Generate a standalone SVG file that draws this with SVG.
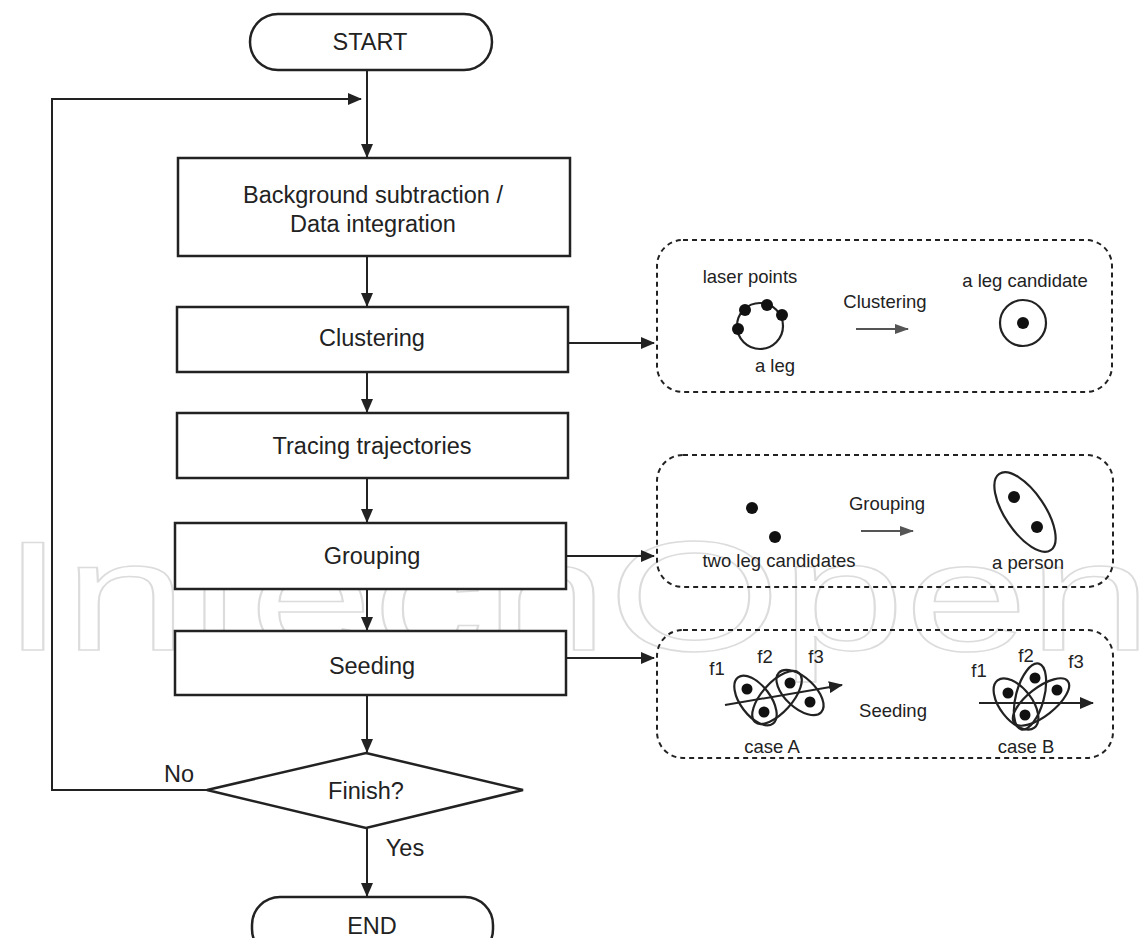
<svg xmlns="http://www.w3.org/2000/svg" width="1140" height="938" viewBox="0 0 1140 938">
<defs>
<marker id="ah" markerWidth="14" markerHeight="12" refX="13" refY="6" orient="auto" markerUnits="userSpaceOnUse"><path d="M0,0 L14,6 L0,12 z" fill="#222"/></marker>
<marker id="ahg" markerWidth="14" markerHeight="10" refX="13" refY="5" orient="auto" markerUnits="userSpaceOnUse"><path d="M0,0 L14,5 L0,10 z" fill="#555"/></marker>
<style>
.box{fill:#fff;stroke:#222;stroke-width:2.5}
.panel{fill:none;stroke:#222;stroke-width:2;stroke-dasharray:5 4}
.t{font-family:"Liberation Sans",Arial,sans-serif;font-size:23.5px;fill:#222;text-anchor:middle}
.s{font-family:"Liberation Sans",Arial,sans-serif;font-size:18.5px;fill:#222;text-anchor:middle}
.c{fill:none;stroke:#222;stroke-width:2.2}
.d{fill:#111}
.ln{fill:none;stroke:#222;stroke-width:2}
.g{fill:none;stroke:#555;stroke-width:2.2}
.wm{font-family:"Liberation Sans",Arial,sans-serif;font-size:156px;fill:none;stroke:#dcdcdc;stroke-width:1.5}
</style>
</defs>
<rect width="1140" height="938" fill="#fff"/>
<text class="wm" x="2" y="650" textLength="1150" lengthAdjust="spacingAndGlyphs">IntechOpen</text>

<g id="connectors">
<line class="ln" x1="367" y1="70" x2="367" y2="157" marker-end="url(#ah)"/>
<polyline class="ln" points="207,790 52,790 52,99 361,99" marker-end="url(#ah)"/>
<line class="ln" x1="367" y1="256" x2="367" y2="306" marker-end="url(#ah)"/>
<line class="ln" x1="367" y1="372" x2="367" y2="412" marker-end="url(#ah)"/>
<line class="ln" x1="367" y1="478" x2="367" y2="522" marker-end="url(#ah)"/>
<line class="ln" x1="367" y1="589" x2="367" y2="630" marker-end="url(#ah)"/>
<line class="ln" x1="367" y1="695" x2="367" y2="752" marker-end="url(#ah)"/>
<line class="ln" x1="367" y1="828" x2="367" y2="896" marker-end="url(#ah)"/>
<line class="ln" x1="568" y1="343" x2="654" y2="343" marker-end="url(#ah)"/>
<line class="ln" x1="566" y1="556" x2="654" y2="556" marker-end="url(#ah)"/>
<line class="ln" x1="566" y1="658" x2="654" y2="658" marker-end="url(#ah)"/>
<text class="t" x="179" y="782">No</text>
<text class="t" x="405" y="856">Yes</text>
</g>

<g id="start">
<rect class="box" x="250" y="14" width="242" height="56" rx="28"/>
<text class="t" x="370" y="50">START</text>
</g>
<g id="background">
<rect class="box" x="178" y="158" width="392" height="98"/>
<text class="t" x="373" y="203">Background subtraction /</text>
<text class="t" x="373" y="232">Data integration</text>
</g>
<g id="clustering">
<rect class="box" x="177" y="307" width="391" height="65"/>
<text class="t" x="372" y="346">Clustering</text>
</g>
<g id="tracing">
<rect class="box" x="177" y="413" width="391" height="65"/>
<text class="t" x="372" y="454">Tracing trajectories</text>
</g>
<g id="grouping">
<rect class="box" x="175" y="523" width="391" height="66"/>
<text class="t" x="372" y="564">Grouping</text>
</g>
<g id="seeding">
<rect class="box" x="175" y="631" width="391" height="64"/>
<text class="t" x="372" y="674">Seeding</text>
</g>
<g id="finish">
<polygon class="box" points="366,753 523,790 366,828 207,790"/>
<text class="t" x="366" y="799">Finish?</text>
</g>
<g id="end">
<rect class="box" x="252" y="897" width="241" height="60" rx="28"/>
<text class="t" x="372" y="934">END</text>
</g>

<g id="panel-clustering">
<rect class="panel" x="657" y="240" width="455" height="152" rx="26"/>
<text class="s" x="750" y="283">laser points</text>
<circle class="c" cx="760" cy="326" r="23"/>
<circle class="d" cx="745" cy="310" r="6"/>
<circle class="d" cx="767" cy="305" r="6"/>
<circle class="d" cx="782" cy="315" r="6"/>
<circle class="d" cx="738" cy="329" r="6"/>
<text class="s" x="775" y="372">a leg</text>
<text class="s" x="885" y="308">Clustering</text>
<line class="g" x1="856" y1="329" x2="908" y2="329" marker-end="url(#ahg)"/>
<text class="s" x="1025" y="287">a leg candidate</text>
<circle class="c" cx="1023" cy="323" r="23"/>
<circle class="d" cx="1023" cy="323" r="6"/>
</g>

<g id="panel-grouping">
<rect class="panel" x="657" y="455" width="456" height="132" rx="26"/>
<circle class="d" cx="752" cy="508" r="6"/>
<circle class="d" cx="775" cy="537" r="6"/>
<text class="s" x="779" y="567">two leg candidates</text>
<text class="s" x="887" y="510">Grouping</text>
<line class="g" x1="861" y1="531" x2="913" y2="531" marker-end="url(#ahg)"/>
<ellipse class="c" cx="1025" cy="512" rx="46" ry="20" transform="rotate(56 1025 512)"/>
<circle class="d" cx="1014" cy="497" r="6"/>
<circle class="d" cx="1037" cy="527" r="6"/>
<text class="s" x="1028" y="569">a person</text>
</g>

<g id="panel-seeding">
<rect class="panel" x="657" y="630" width="456" height="128" rx="26"/>
<text class="s" x="717" y="675">f1</text>
<text class="s" x="765" y="663">f2</text>
<text class="s" x="816" y="663">f3</text>
<ellipse class="c" cx="755.5" cy="700.5" rx="29" ry="15" transform="rotate(53 755.5 700.5)"/>
<ellipse class="c" cx="777" cy="697.5" rx="33" ry="15" transform="rotate(-48 777 697.5)"/>
<ellipse class="c" cx="800" cy="692.5" rx="29" ry="15" transform="rotate(43 800 692.5)"/>
<circle class="d" cx="747" cy="689" r="5.5"/>
<circle class="d" cx="764" cy="712" r="5.5"/>
<circle class="d" cx="790" cy="683" r="5.5"/>
<circle class="d" cx="810" cy="702" r="5.5"/>
<line class="ln" x1="725" y1="705" x2="842" y2="685" marker-end="url(#ah)"/>
<text class="s" x="893" y="717">Seeding</text>
<text class="s" x="772" y="753">case A</text>
<text class="s" x="979" y="677">f1</text>
<text class="s" x="1026" y="662">f2</text>
<text class="s" x="1076" y="668">f3</text>
<ellipse class="c" cx="1016" cy="704" rx="30" ry="16" transform="rotate(52 1016 704)"/>
<ellipse class="c" cx="1030" cy="696.5" rx="34" ry="14" transform="rotate(-75 1030 696.5)"/>
<ellipse class="c" cx="1041" cy="702" rx="34" ry="14" transform="rotate(-38 1041 702)"/>
<circle class="d" cx="1008" cy="693" r="5.5"/>
<circle class="d" cx="1035" cy="678" r="5.5"/>
<circle class="d" cx="1057" cy="690" r="5.5"/>
<circle class="d" cx="1025" cy="715" r="5.5"/>
<line class="ln" x1="979" y1="703" x2="1093" y2="703" marker-end="url(#ah)"/>
<text class="s" x="1026" y="753">case B</text>
</g>
</svg>
